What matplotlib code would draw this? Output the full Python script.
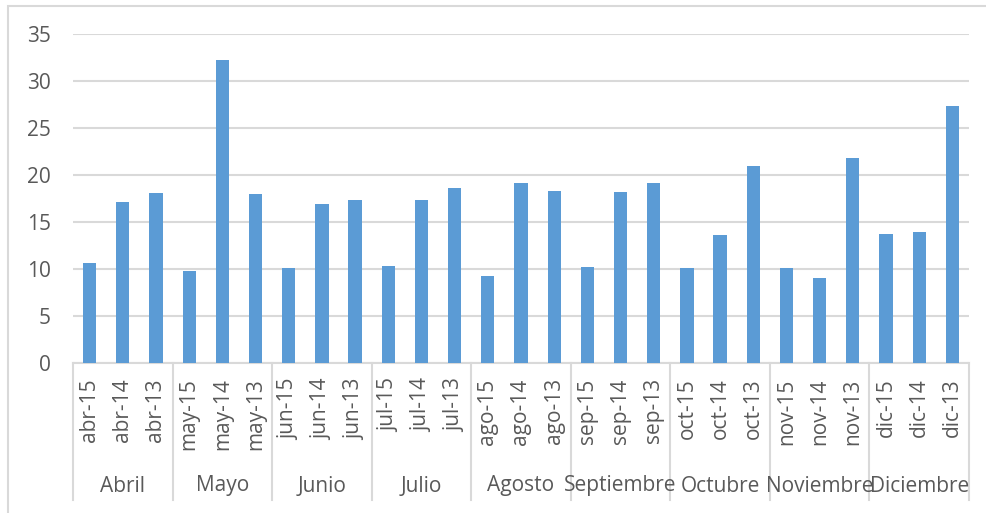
import matplotlib.pyplot as plt
import matplotlib.patches as mpatches
import matplotlib.transforms as mtransforms

plt.rcParams['font.family'] = ['Open Sans', 'DejaVu Sans']

meses = ['Abril', 'Mayo', 'Junio', 'Julio', 'Agosto', 'Septiembre',
         'Octubre', 'Noviembre', 'Diciembre']
abrev = ['abr', 'may', 'jun', 'jul', 'ago', 'sep', 'oct', 'nov', 'dic']
anios = ['15', '14', '13']
etiquetas = [f'{a}-{y}' for a in abrev for y in anios]
valores = [10.6, 17.1, 18.1,
           9.8, 32.3, 18.0,
           10.1, 16.9, 17.4,
           10.3, 17.4, 18.6,
           9.3, 19.2, 18.3,
           10.2, 18.2, 19.2,
           10.1, 13.6, 21.0,
           10.1, 9.0, 21.8,
           13.7, 14.0, 27.4]

W, H = 987, 513
gris = '#595959'
linea = '#d9d9d9'

fig = plt.figure(figsize=(W / 100, H / 100), dpi=100)
ax = fig.add_axes([73 / W, (H - 363) / H, (969 - 73) / W, (363 - 34.3) / H])

x = list(range(len(valores)))
ax.bar(x, valores, width=0.4, color='#5b9bd5', zorder=3)
ax.set_xlim(-0.5, len(valores) - 0.5)
ax.set_ylim(0, 35)
ax.set_yticks(range(0, 36, 5))
ax.grid(axis='y', color=linea, linewidth=1.5, zorder=0)

for s in ['top', 'right', 'left']:
    ax.spines[s].set_visible(False)
ax.spines['bottom'].set_color(linea)
ax.spines['bottom'].set_linewidth(1.5)

ax.set_xticks(x)
ax.set_xticklabels(etiquetas, rotation=90)
ax.tick_params(axis='x', length=0, pad=11, labelsize=15, labelcolor=gris)
ax.tick_params(axis='y', length=0, pad=16, labelsize=15, labelcolor=gris)

trans = mtransforms.blended_transform_factory(ax.transData, ax.transAxes)
alto = 363 - 34.3
y_fin = -(500 - 363) / alto
y_mes = -(486 - 363) / alto
for i in range(len(meses) + 1):
    xs = i * 3 - 0.5
    ax.plot([xs, xs], [0, y_fin], color=linea, linewidth=1.5,
            transform=trans, clip_on=False)
for i, m in enumerate(meses):
    ax.text(i * 3 + 1, y_mes, m, transform=trans, ha='center', va='center',
            fontsize=15, color=gris)

# marco del gráfico
fig.patches.append(mpatches.Rectangle((8 / W, -0.1), 1.1, (H - 6) / H + 0.1,
                                      transform=fig.transFigure, fill=False,
                                      edgecolor=linea, linewidth=1.5))

fig.savefig('out.png', dpi=100)
